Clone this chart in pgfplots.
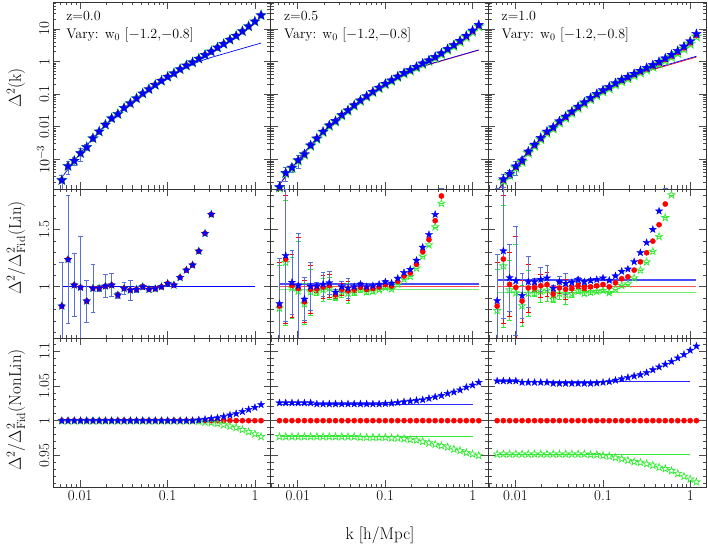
\documentclass[border=0pt]{standalone}
\usepackage{fontspec}
\usepackage{pgfplots}
\usepackage{pgfplotstable}
\pgfplotsset{compat=1.18}
\definecolor{pgreen}{RGB}{50,235,50}
\definecolor{ebl}{RGB}{90,110,220}
\definecolor{lblue}{RGB}{40,40,255}

\pgfdeclareplotmark{fstar}{%
\pgfpathmoveto{\pgfqpoint{0pt}{\pgfplotmarksize}}%
\pgfpathlineto{\pgfqpoint{0.2351\pgfplotmarksize}{0.3236\pgfplotmarksize}}%
\pgfpathlineto{\pgfqpoint{0.9511\pgfplotmarksize}{0.3090\pgfplotmarksize}}%
\pgfpathlineto{\pgfqpoint{0.3804\pgfplotmarksize}{-0.1236\pgfplotmarksize}}%
\pgfpathlineto{\pgfqpoint{0.5878\pgfplotmarksize}{-0.8090\pgfplotmarksize}}%
\pgfpathlineto{\pgfqpoint{0pt}{-0.4\pgfplotmarksize}}%
\pgfpathlineto{\pgfqpoint{-0.5878\pgfplotmarksize}{-0.8090\pgfplotmarksize}}%
\pgfpathlineto{\pgfqpoint{-0.3804\pgfplotmarksize}{-0.1236\pgfplotmarksize}}%
\pgfpathlineto{\pgfqpoint{-0.9511\pgfplotmarksize}{0.3090\pgfplotmarksize}}%
\pgfpathlineto{\pgfqpoint{-0.2351\pgfplotmarksize}{0.3236\pgfplotmarksize}}%
\pgfpathclose\pgfusepathqfillstroke}
\pgfdeclareplotmark{ostar}{%
\pgfpathmoveto{\pgfqpoint{0pt}{\pgfplotmarksize}}%
\pgfpathlineto{\pgfqpoint{0.2351\pgfplotmarksize}{0.3236\pgfplotmarksize}}%
\pgfpathlineto{\pgfqpoint{0.9511\pgfplotmarksize}{0.3090\pgfplotmarksize}}%
\pgfpathlineto{\pgfqpoint{0.3804\pgfplotmarksize}{-0.1236\pgfplotmarksize}}%
\pgfpathlineto{\pgfqpoint{0.5878\pgfplotmarksize}{-0.8090\pgfplotmarksize}}%
\pgfpathlineto{\pgfqpoint{0pt}{-0.4\pgfplotmarksize}}%
\pgfpathlineto{\pgfqpoint{-0.5878\pgfplotmarksize}{-0.8090\pgfplotmarksize}}%
\pgfpathlineto{\pgfqpoint{-0.3804\pgfplotmarksize}{-0.1236\pgfplotmarksize}}%
\pgfpathlineto{\pgfqpoint{-0.9511\pgfplotmarksize}{0.3090\pgfplotmarksize}}%
\pgfpathlineto{\pgfqpoint{-0.2351\pgfplotmarksize}{0.3236\pgfplotmarksize}}%
\pgfpathclose\pgfusepathqstroke}

% ---------- Row 1: Delta^2(k) ----------
\pgfplotstableread{
k r e
0.00618 2.29e-4 0.46
0.00728 6.17e-4 0.45
0.00858 9.03e-4 0.27
0.01011 1.542e-3 0.45
0.01191 2.36e-3 0.21
0.01403 4.41e-3 0.21
0.01653 7.14e-3 0.03
0.01948 0.01156 0.10
0.02294 0.01803 0.10
0.02703 0.02443 0.03
0.03184 0.03750 0.05
0.03751 0.05212 0.09
0.04419 0.07413 0.03
0.05206 0.1047 0.02
0.06133 0.1413 0.02
0.07228 0.1919 0.015
0.08514 0.2570 0.01
0.1003 0.3404 0.01
0.1182 0.4325 0.005
0.1392 0.5808 0
0.1641 0.7568 0
0.1932 0.9441 0
0.2277 1.222 0
0.2682 1.589 0
0.3161 2.028 0
0.3724 2.692 0
0.4387 3.467 0
0.5168 4.677 0
0.6089 6.166 0
0.7175 8.511 0
0.8453 12.02 0
0.9959 16.98 0
1.173 26.30 0
}\tabPA
\pgfplotstableread{
k l
0.00618 2.754e-4
0.00728 5.012e-4
0.00858 8.913e-4
0.01011 1.549e-3
0.01191 2.692e-3
0.01403 4.467e-3
0.01653 7.244e-3
0.01948 0.01148
0.02294 0.01778
0.02703 0.02630
0.03184 0.03802
0.03751 0.05370
0.04419 0.07586
0.05206 0.1047
0.06133 0.1445
0.07228 0.1950
0.08514 0.2570
0.1003 0.3311
0.1182 0.4266
0.1392 0.5370
0.1641 0.680
0.1932 0.830
0.2277 0.990
0.2682 1.160
0.3161 1.340
0.3724 1.520
0.4387 1.730
0.5168 1.960
0.6089 2.230
0.7175 2.530
0.8453 2.870
0.9959 3.260
1.173 3.700
}\tabLA
\pgfplotstableread{
k r b g e
0.00618 1.380e-4 1.415e-4 1.348e-4 0.46
0.00728 3.741e-4 3.836e-4 3.655e-4 0.45
0.00858 5.433e-4 5.572e-4 5.308e-4 0.27
0.01011 9.183e-4 9.417e-4 8.972e-4 0.45
0.01191 1.409e-3 1.445e-3 1.377e-3 0.21
0.01403 2.630e-3 2.697e-3 2.570e-3 0.21
0.01653 4.285e-3 4.388e-3 4.186e-3 0.03
0.01948 6.902e-3 7.068e-3 6.743e-3 0.10
0.02294 0.01081 0.01107 0.01056 0.10
0.02703 0.01472 0.01507 0.01438 0.03
0.03184 0.02239 0.02293 0.02187 0.05
0.03751 0.03119 0.03194 0.03047 0.09
0.04419 0.04467 0.04574 0.04364 0.03
0.05206 0.06295 0.06446 0.06144 0.02
0.06133 0.08511 0.08715 0.08307 0.02
0.07228 0.1156 0.1184 0.1128 0.015
0.08514 0.1545 0.1582 0.1508 0.01
0.1003 0.2032 0.2082 0.1983 0.01
0.1182 0.2588 0.2653 0.2523 0.005
0.1392 0.3388 0.3476 0.3303 0
0.1641 0.4355 0.4473 0.4242 0
0.1932 0.5358 0.5508 0.5213 0
0.2277 0.6714 0.6909 0.6526 0
0.2682 0.8531 0.8787 0.8275 0
0.3161 1.057 1.091 1.023 0
0.3724 1.340 1.386 1.294 0
0.4387 1.730 1.792 1.668 0
0.5168 2.344 2.435 2.255 0
0.6089 3.090 3.217 2.963 0
0.7175 4.169 4.352 3.990 0
0.8453 5.888 6.171 5.617 0
0.9959 8.511 8.945 8.103 0
1.173 12.59 13.28 11.96 0
}\tabPB
\pgfplotstableread{
k lr lb
0.00618 1.660e-4 1.700e-4
0.00858 5.371e-4 5.500e-4
0.01191 1.622e-3 1.661e-3
0.01653 4.365e-3 4.470e-3
0.02294 0.01071 0.01097
0.03184 0.02291 0.02346
0.04419 0.04571 0.04681
0.06133 0.08708 0.08917
0.08514 0.1549 0.1586
0.1182 0.2571 0.2633
0.1641 0.410 0.420
0.2277 0.596 0.610
0.3161 0.810 0.830
0.4387 1.043 1.068
0.6089 1.344 1.376
0.8453 1.732 1.773
1.173 2.231 2.285
}\tabLB
\pgfplotstableread{
k r b g e
0.00618 8.511e-5 8.996e-5 8.102e-5 0.46
0.00728 2.312e-4 2.444e-4 2.201e-4 0.45
0.00858 3.381e-4 3.574e-4 3.219e-4 0.27
0.01011 5.728e-4 6.054e-4 5.453e-4 0.45
0.01191 8.750e-4 9.231e-4 8.330e-4 0.21
0.01403 1.644e-3 1.734e-3 1.565e-3 0.21
0.01653 2.667e-3 2.814e-3 2.539e-3 0.03
0.01948 4.305e-3 4.542e-3 4.098e-3 0.10
0.02294 6.745e-3 7.116e-3 6.421e-3 0.10
0.02703 9.162e-3 9.652e-3 8.722e-3 0.03
0.03184 0.01400 0.01475 0.01333 0.05
0.03751 0.01950 0.02054 0.01856 0.09
0.04419 0.02773 0.02921 0.02640 0.03
0.05206 0.03926 0.04136 0.03738 0.02
0.06133 0.05321 0.05606 0.05066 0.02
0.07228 0.07244 0.07632 0.06889 0.015
0.08514 0.09638 0.1016 0.09166 0.01
0.1003 0.1256 0.1325 0.1193 0.01
0.1182 0.1585 0.1674 0.1504 0.005
0.1392 0.2065 0.2185 0.1956 0
0.1641 0.2624 0.2781 0.2480 0
0.1932 0.3206 0.3405 0.3023 0
0.2277 0.3972 0.4226 0.3738 0
0.2682 0.4898 0.5221 0.4604 0
0.3161 0.5998 0.6412 0.5626 0
0.3724 0.7328 0.7863 0.6859 0
0.4387 0.9163 0.9869 0.8549 0
0.5168 1.164 1.258 1.084 0
0.6089 1.489 1.616 1.382 0
0.7175 1.950 2.126 1.802 0
0.8453 2.661 2.914 2.448 0
0.9959 3.802 4.186 3.483 0
1.173 6.383 7.066 5.821 0
}\tabPC
\pgfplotstableread{
k lr lb
0.00618 1.023e-4 1.081e-4
0.00858 3.311e-4 3.500e-4
0.01191 1.000e-3 1.057e-3
0.01653 2.691e-3 2.844e-3
0.02294 6.605e-3 6.981e-3
0.03184 0.01412 0.01492
0.04419 0.02818 0.02979
0.06133 0.05368 0.05674
0.08514 0.09548 0.1009
0.1182 0.1585 0.1675
0.1641 0.253 0.267
0.2277 0.3675 0.3885
0.3161 0.4995 0.528
0.4387 0.643 0.680
0.6089 0.8285 0.876
0.8453 1.068 1.129
1.173 1.375 1.454
}\tabLC

% ---------- Row 2: ratio to fiducial linear ----------
\pgfplotstableread{
k v e
0.00618 0.832 0.46
0.00728 1.238 0.45
0.00858 1.015 0.27
0.01011 0.995 0.45
0.01191 0.876 0.21
0.01403 0.986 0.21
0.01653 0.986 0.03
0.01948 1.006 0.10
0.02294 1.015 0.10
0.02703 0.928 0.03
0.03184 0.986 0.05
0.03751 0.971 0.09
0.04419 0.977 0.03
0.05206 1.000 0.02
0.06133 0.977 0.02
0.07228 0.983 0.015
0.08514 1.000 0.01
0.1003 1.029 0.01
0.1182 1.015 0.005
0.1392 1.081 0
0.1641 1.145 0
0.1932 1.189 0
0.2277 1.310 0
0.2682 1.464 0
0.3161 1.630 0
}\tabQA
\pgfplotstableread{
k r b g e
0.00618 0.832 0.853 0.813 0.46
0.00728 1.240 1.272 1.211 0.45
0.00858 1.012 1.038 0.989 0.27
0.01011 0.985 1.010 0.962 0.45
0.01191 0.870 0.892 0.850 0.21
0.01403 0.978 1.003 0.955 0.21
0.01653 0.982 1.006 0.959 0.03
0.01948 0.998 1.022 0.975 0.10
0.02294 1.010 1.034 0.987 0.10
0.02703 0.930 0.952 0.909 0.03
0.03184 0.978 1.001 0.955 0.05
0.03751 0.965 0.988 0.943 0.09
0.04419 0.978 1.001 0.955 0.03
0.05206 0.998 1.022 0.974 0.02
0.06133 0.978 1.001 0.955 0.02
0.07228 0.985 1.009 0.961 0.015
0.08514 0.998 1.022 0.974 0.01
0.1003 1.018 1.043 0.994 0.01
0.1182 1.006 1.031 0.981 0.005
0.1392 1.047 1.074 1.021 0
0.1641 1.094 1.124 1.066 0
0.1932 1.120 1.151 1.090 0
0.2277 1.195 1.230 1.162 0
0.2682 1.305 1.344 1.266 0
0.3161 1.410 1.455 1.365 0
0.3724 1.575 1.629 1.521 0
0.4387 1.790 1.854 1.726 0
}\tabQB
\pgfplotstableread{
k r b g e
0.00618 0.832 0.879 0.792 0.46
0.00728 1.241 1.312 1.181 0.45
0.00858 1.021 1.079 0.972 0.27
0.01011 0.995 1.052 0.947 0.45
0.01191 0.876 0.924 0.834 0.21
0.01403 0.990 1.044 0.942 0.21
0.01653 0.990 1.044 0.942 0.03
0.01948 1.009 1.064 0.961 0.10
0.02294 1.020 1.076 0.971 0.10
0.02703 0.937 0.987 0.892 0.03
0.03184 0.990 1.043 0.942 0.05
0.03751 0.977 1.029 0.930 0.09
0.04419 0.985 1.038 0.938 0.03
0.05206 1.009 1.063 0.961 0.02
0.06133 0.990 1.043 0.942 0.02
0.07228 1.000 1.054 0.951 0.015
0.08514 1.009 1.063 0.960 0.01
0.1003 1.020 1.076 0.969 0.01
0.1182 1.000 1.056 0.949 0.005
0.1392 1.035 1.095 0.980 0
0.1641 1.070 1.134 1.011 0
0.1932 1.087 1.154 1.025 0
0.2277 1.145 1.218 1.077 0
0.2682 1.217 1.297 1.144 0
0.3161 1.296 1.385 1.216 0
0.3724 1.397 1.499 1.308 0
0.4387 1.540 1.659 1.437 0
0.5168 1.720 1.859 1.601 0
0.6089 1.940 2.105 1.800 0
}\tabQC

% ---------- Row 3: ratio to fiducial nonlinear ----------
\pgfplotstableread{
k r b g
0.00618 1 1.000 0.9995
0.00728 1 1.000 0.9995
0.00858 1 1.000 0.9995
0.01011 1 1.000 0.9995
0.01191 1 1.000 0.9995
0.01403 1 1.000 0.9995
0.01653 1 1.000 0.9995
0.01948 1 1.000 0.9995
0.02294 1 1.000 0.9995
0.02703 1 1.000 0.9995
0.03184 1 1.000 0.9995
0.03751 1 1.000 0.9995
0.04419 1 1.000 0.9995
0.05206 1 1.000 0.9995
0.06133 1 1.000 0.9995
0.07228 1 1.000 0.9995
0.08514 1 1.000 0.9995
0.1003 1 1.000 0.9995
0.1182 1 1.000 0.9995
0.1392 1 1.000 0.9995
0.1641 1 1.000 0.9995
0.1932 1 1.000 0.9995
0.2277 1 1.001 0.999
0.2682 1 1.002 0.998
0.3161 1 1.003 0.997
0.3724 1 1.004 0.996
0.4387 1 1.006 0.994
0.5168 1 1.008 0.992
0.6089 1 1.010 0.990
0.7175 1 1.013 0.987
0.8453 1 1.016 0.984
0.9959 1 1.019 0.981
1.173 1 1.023 0.977
}\tabRA
\pgfplotstableread{
k r b g
0.00618 1 1.0255 0.977
0.00728 1 1.0255 0.977
0.00858 1 1.0255 0.977
0.01011 1 1.0255 0.977
0.01191 1 1.0255 0.977
0.01403 1 1.0255 0.977
0.01653 1 1.024 0.977
0.01948 1 1.024 0.977
0.02294 1 1.024 0.977
0.02703 1 1.024 0.977
0.03184 1 1.024 0.977
0.03751 1 1.024 0.977
0.04419 1 1.024 0.977
0.05206 1 1.024 0.976
0.06133 1 1.024 0.976
0.07228 1 1.024 0.976
0.08514 1 1.024 0.976
0.1003 1 1.0245 0.976
0.1182 1 1.025 0.975
0.1392 1 1.026 0.975
0.1641 1 1.027 0.974
0.1932 1 1.028 0.973
0.2277 1 1.029 0.972
0.2682 1 1.030 0.970
0.3161 1 1.032 0.968
0.3724 1 1.034 0.966
0.4387 1 1.036 0.964
0.5168 1 1.039 0.962
0.6089 1 1.041 0.959
0.7175 1 1.044 0.957
0.8453 1 1.048 0.954
0.9959 1 1.051 0.952
1.173 1 1.055 0.950
}\tabRB
\pgfplotstableread{
k r b g
0.00618 1 1.057 0.952
0.00728 1 1.057 0.952
0.00858 1 1.057 0.952
0.01011 1 1.057 0.952
0.01191 1 1.055 0.952
0.01403 1 1.055 0.952
0.01653 1 1.055 0.952
0.01948 1 1.055 0.952
0.02294 1 1.055 0.952
0.02703 1 1.0535 0.952
0.03184 1 1.0535 0.952
0.03751 1 1.0535 0.952
0.04419 1 1.0535 0.952
0.05206 1 1.0535 0.952
0.06133 1 1.0535 0.952
0.07228 1 1.0535 0.951
0.08514 1 1.054 0.951
0.1003 1 1.055 0.950
0.1182 1 1.056 0.949
0.1392 1 1.058 0.947
0.1641 1 1.060 0.945
0.1932 1 1.062 0.943
0.2277 1 1.064 0.941
0.2682 1 1.066 0.940
0.3161 1 1.069 0.938
0.3724 1 1.073 0.936
0.4387 1 1.077 0.933
0.5168 1 1.081 0.931
0.6089 1 1.085 0.928
0.7175 1 1.090 0.924
0.8453 1 1.095 0.920
0.9959 1 1.101 0.916
1.173 1 1.107 0.912
}\tabRC

\tikzset{
  mbA/.style={only marks, mark=fstar, mark size=5pt, mark options={fill=blue, draw=blue, line width=0.3pt}},
  mgA/.style={only marks, mark=ostar, mark size=5pt, mark options={draw=pgreen, line width=0.8pt}},
  mrA/.style={only marks, mark=*, mark size=3pt, mark options={fill=red, draw=red}},
  mb/.style={only marks, mark=fstar, mark size=3.8pt, mark options={fill=blue, draw=blue, line width=0.3pt}},
  mg/.style={only marks, mark=ostar, mark size=3.8pt, mark options={draw=pgreen, line width=0.7pt}},
  mr/.style={only marks, mark=*, mark size=2.6pt, mark options={fill=red, draw=red}},
  annot/.style={anchor=west, font=\fontsize{14}{17}\selectfont},
  lab/.style={font=\fontsize{17}{20}\selectfont},
}

\begin{document}
\begin{tikzpicture}
\useasboundingbox (0,0) rectangle (708pt,545pt);

% ===== Row 1 =====
\begin{axis}[scale only axis, width=217.67pt, height=187pt, anchor=south west, at={(53pt,356pt)},
  xmode=log, ymode=log, xmin=0.0049, xmax=1.51, ymin=1.23e-4, ymax=67.3,
  xtick={0.01,0.1,1}, xticklabels={,,},
  minor xtick={0.005,0.006,0.007,0.008,0.009,0.02,0.03,0.04,0.05,0.06,0.07,0.08,0.09,0.2,0.3,0.4,0.5,0.6,0.7,0.8,0.9},
  ytick={0.001,0.01,0.1,1,10}, yticklabels={$10^{-3}$,0.01,0.1,1,10},
  minor ytick={2e-4,3e-4,4e-4,5e-4,6e-4,7e-4,8e-4,9e-4,2e-3,3e-3,4e-3,5e-3,6e-3,7e-3,8e-3,9e-3,0.02,0.03,0.04,0.05,0.06,0.07,0.08,0.09,0.2,0.3,0.4,0.5,0.6,0.7,0.8,0.9,2,3,4,5,6,7,8,9,20,30,40,50,60},
  tick align=inside, major tick length=7pt, minor tick length=3.5pt,
  tick style={black!70, line width=0.6pt}, axis line style={black!80, line width=0.9pt},
  tick label style={font=\fontsize{15}{18}\selectfont}, yticklabel style={rotate=90, anchor=south}]
\addplot[blue, line width=0.7pt] table[x=k,y=l] {\tabLA};
\addplot[mrA] table[x=k,y=r] {\tabPA};
\addplot[mgA] table[x=k,y=r] {\tabPA};
\addplot[mbA, error bars/y dir=both, error bars/y explicit relative, error bars/error bar style={line width=0.6pt, ebl}, error bars/error mark options={rotate=90, line width=0.6pt, mark size=2.4pt, ebl}] table[x=k,y=r,y error=e] {\tabPA};
\node[annot] at (rel axis cs:0.045,0.925) {z=0.0};
\node[annot] at (rel axis cs:0.045,0.824) {Vary: w$_0$ [$-$1.2,$-$0.8]};
\end{axis}

\begin{axis}[scale only axis, width=217.67pt, height=187pt, anchor=south west, at={(270.67pt,356pt)},
  xmode=log, ymode=log, xmin=0.0049, xmax=1.51, ymin=1.23e-4, ymax=67.3,
  xtick={0.01,0.1,1}, xticklabels={,,},
  minor xtick={0.005,0.006,0.007,0.008,0.009,0.02,0.03,0.04,0.05,0.06,0.07,0.08,0.09,0.2,0.3,0.4,0.5,0.6,0.7,0.8,0.9},
  ytick={0.001,0.01,0.1,1,10}, yticklabels={,,,,},
  minor ytick={2e-4,3e-4,4e-4,5e-4,6e-4,7e-4,8e-4,9e-4,2e-3,3e-3,4e-3,5e-3,6e-3,7e-3,8e-3,9e-3,0.02,0.03,0.04,0.05,0.06,0.07,0.08,0.09,0.2,0.3,0.4,0.5,0.6,0.7,0.8,0.9,2,3,4,5,6,7,8,9,20,30,40,50,60},
  tick align=inside, major tick length=7pt, minor tick length=3.5pt,
  tick style={black!70, line width=0.6pt}, axis line style={black!80, line width=0.9pt}]
\addplot[red, line width=0.7pt] table[x=k,y=lr] {\tabLB};
\addplot[blue, line width=0.7pt] table[x=k,y=lb] {\tabLB};
\addplot[mrA] table[x=k,y=r] {\tabPB};
\addplot[mgA] table[x=k,y=g] {\tabPB};
\addplot[mbA, error bars/y dir=both, error bars/y explicit relative, error bars/error bar style={line width=0.6pt, ebl}, error bars/error mark options={rotate=90, line width=0.6pt, mark size=2.4pt, ebl}] table[x=k,y=b,y error=e] {\tabPB};
\node[annot] at (rel axis cs:0.045,0.925) {z=0.5};
\node[annot] at (rel axis cs:0.045,0.824) {Vary: w$_0$ [$-$1.2,$-$0.8]};
\end{axis}

\begin{axis}[scale only axis, width=217.67pt, height=187pt, anchor=south west, at={(488.33pt,356pt)},
  xmode=log, ymode=log, xmin=0.0049, xmax=1.51, ymin=1.23e-4, ymax=67.3,
  xtick={0.01,0.1,1}, xticklabels={,,},
  minor xtick={0.005,0.006,0.007,0.008,0.009,0.02,0.03,0.04,0.05,0.06,0.07,0.08,0.09,0.2,0.3,0.4,0.5,0.6,0.7,0.8,0.9},
  ytick={0.001,0.01,0.1,1,10}, yticklabels={,,,,},
  minor ytick={2e-4,3e-4,4e-4,5e-4,6e-4,7e-4,8e-4,9e-4,2e-3,3e-3,4e-3,5e-3,6e-3,7e-3,8e-3,9e-3,0.02,0.03,0.04,0.05,0.06,0.07,0.08,0.09,0.2,0.3,0.4,0.5,0.6,0.7,0.8,0.9,2,3,4,5,6,7,8,9,20,30,40,50,60},
  tick align=inside, major tick length=7pt, minor tick length=3.5pt,
  tick style={black!70, line width=0.6pt}, axis line style={black!80, line width=0.9pt}]
\addplot[red, line width=0.7pt] table[x=k,y=lr] {\tabLC};
\addplot[blue, line width=0.7pt] table[x=k,y=lb] {\tabLC};
\addplot[mrA] table[x=k,y=r] {\tabPC};
\addplot[mgA] table[x=k,y=g] {\tabPC};
\addplot[mbA, error bars/y dir=both, error bars/y explicit relative, error bars/error bar style={line width=0.6pt, ebl}, error bars/error mark options={rotate=90, line width=0.6pt, mark size=2.4pt, ebl}] table[x=k,y=b,y error=e] {\tabPC};
\node[annot] at (rel axis cs:0.045,0.925) {z=1.0};
\node[annot] at (rel axis cs:0.045,0.824) {Vary: w$_0$ [$-$1.2,$-$0.8]};
\end{axis}

% ===== Row 2 =====
\begin{axis}[scale only axis, width=217.67pt, height=149.5pt, anchor=south west, at={(53pt,206.5pt)},
  xmode=log, xmin=0.0049, xmax=1.51, ymin=0.55, ymax=1.851,
  restrict y to domain=0.3:1.87,
  xtick={0.01,0.1,1}, xticklabels={,,},
  minor xtick={0.005,0.006,0.007,0.008,0.009,0.02,0.03,0.04,0.05,0.06,0.07,0.08,0.09,0.2,0.3,0.4,0.5,0.6,0.7,0.8,0.9},
  ytick={1,1.5}, yticklabels={1,1.5}, minor ytick={0.6,0.7,0.8,0.9,1.1,1.2,1.3,1.4,1.6,1.7,1.8},
  tick align=inside, major tick length=7pt, minor tick length=3.5pt,
  tick style={black!70, line width=0.6pt}, axis line style={black!80, line width=0.9pt},
  tick label style={font=\fontsize{15}{18}\selectfont}, yticklabel style={rotate=90, anchor=south}]
\addplot[blue, line width=1pt] coordinates {(0.0062,1) (1.0,1)};
\addplot[mg, error bars/y dir=both, error bars/y explicit relative, error bars/error bar style={line width=0.6pt, pgreen}, error bars/error mark options={rotate=90, line width=0.6pt, mark size=2.4pt, pgreen}] table[x=k,y=v,y error=e] {\tabQA};
\addplot[mr, error bars/y dir=both, error bars/y explicit relative, error bars/error bar style={line width=0.6pt, red}, error bars/error mark options={rotate=90, line width=0.6pt, mark size=2.4pt, red}] table[x=k,y=v,y error=e] {\tabQA};
\addplot[mb, error bars/y dir=both, error bars/y explicit relative, error bars/error bar style={line width=0.6pt, ebl}, error bars/error mark options={rotate=90, line width=0.6pt, mark size=2.4pt, ebl}] table[x=k,y=v,y error=e] {\tabQA};
\end{axis}

\begin{axis}[scale only axis, width=217.67pt, height=149.5pt, anchor=south west, at={(270.67pt,206.5pt)},
  xmode=log, xmin=0.0049, xmax=1.51, ymin=0.55, ymax=1.851,
  restrict y to domain=0.3:1.87,
  xtick={0.01,0.1,1}, xticklabels={,,},
  minor xtick={0.005,0.006,0.007,0.008,0.009,0.02,0.03,0.04,0.05,0.06,0.07,0.08,0.09,0.2,0.3,0.4,0.5,0.6,0.7,0.8,0.9},
  ytick={1,1.5}, yticklabels={,}, minor ytick={0.6,0.7,0.8,0.9,1.1,1.2,1.3,1.4,1.6,1.7,1.8},
  tick align=inside, major tick length=7pt, minor tick length=3.5pt,
  tick style={black!70, line width=0.6pt}, axis line style={black!80, line width=0.9pt}]
\addplot[pgreen, line width=1.2pt, opacity=0.7] coordinates {(0.0062,0.977) (1.17,0.977)};
\addplot[red, line width=1.2pt, opacity=0.7] coordinates {(0.0062,1) (1.17,1)};
\addplot[blue, line width=1.2pt, opacity=0.7] coordinates {(0.0062,1.024) (1.17,1.024)};
\addplot[mg, error bars/y dir=both, error bars/y explicit relative, error bars/error bar style={line width=0.6pt, pgreen}, error bars/error mark options={rotate=90, line width=0.6pt, mark size=2.4pt, pgreen}] table[x=k,y=g,y error=e] {\tabQB};
\addplot[mr, error bars/y dir=both, error bars/y explicit relative, error bars/error bar style={line width=0.6pt, red}, error bars/error mark options={rotate=90, line width=0.6pt, mark size=2.4pt, red}] table[x=k,y=r,y error=e] {\tabQB};
\addplot[mb, error bars/y dir=both, error bars/y explicit relative, error bars/error bar style={line width=0.6pt, ebl}, error bars/error mark options={rotate=90, line width=0.6pt, mark size=2.4pt, ebl}] table[x=k,y=b,y error=e] {\tabQB};
\end{axis}

\begin{axis}[scale only axis, width=217.67pt, height=149.5pt, anchor=south west, at={(488.33pt,206.5pt)},
  xmode=log, xmin=0.0049, xmax=1.51, ymin=0.55, ymax=1.851,
  restrict y to domain=0.3:1.87,
  xtick={0.01,0.1,1}, xticklabels={,,},
  minor xtick={0.005,0.006,0.007,0.008,0.009,0.02,0.03,0.04,0.05,0.06,0.07,0.08,0.09,0.2,0.3,0.4,0.5,0.6,0.7,0.8,0.9},
  ytick={1,1.5}, yticklabels={,}, minor ytick={0.6,0.7,0.8,0.9,1.1,1.2,1.3,1.4,1.6,1.7,1.8},
  tick align=inside, major tick length=7pt, minor tick length=3.5pt,
  tick style={black!70, line width=0.6pt}, axis line style={black!80, line width=0.9pt}]
\addplot[pgreen, line width=1.5pt, opacity=0.7] coordinates {(0.0062,0.952) (1.17,0.952)};
\addplot[red, line width=1.2pt, opacity=0.7] coordinates {(0.0062,1) (1.17,1)};
\addplot[blue, line width=1.5pt, opacity=0.7] coordinates {(0.0062,1.057) (1.17,1.057)};
\addplot[mg, error bars/y dir=both, error bars/y explicit relative, error bars/error bar style={line width=0.6pt, pgreen}, error bars/error mark options={rotate=90, line width=0.6pt, mark size=2.4pt, pgreen}] table[x=k,y=g,y error=e] {\tabQC};
\addplot[mr, error bars/y dir=both, error bars/y explicit relative, error bars/error bar style={line width=0.6pt, red}, error bars/error mark options={rotate=90, line width=0.6pt, mark size=2.4pt, red}] table[x=k,y=r,y error=e] {\tabQC};
\addplot[mb, error bars/y dir=both, error bars/y explicit relative, error bars/error bar style={line width=0.6pt, ebl}, error bars/error mark options={rotate=90, line width=0.6pt, mark size=2.4pt, ebl}] table[x=k,y=b,y error=e] {\tabQC};
\end{axis}

% ===== Row 3 =====
\begin{axis}[scale only axis, width=217.67pt, height=149pt, anchor=south west, at={(53pt,57.5pt)},
  xmode=log, xmin=0.0049, xmax=1.51, ymin=0.904, ymax=1.118,
  xtick={0.01,0.1,1}, xticklabels={0.01,0.1,1},
  minor xtick={0.005,0.006,0.007,0.008,0.009,0.02,0.03,0.04,0.05,0.06,0.07,0.08,0.09,0.2,0.3,0.4,0.5,0.6,0.7,0.8,0.9},
  ytick={0.95,1,1.05,1.1}, yticklabels={0.95,1,1.05,1.1},
  minor ytick={0.91,0.92,0.93,0.94,0.96,0.97,0.98,0.99,1.01,1.02,1.03,1.04,1.06,1.07,1.08,1.09,1.11},
  tick align=inside, major tick length=7pt, minor tick length=3.5pt,
  tick style={black!70, line width=0.6pt}, axis line style={black!80, line width=0.9pt},
  tick label style={font=\fontsize{15}{18}\selectfont}, yticklabel style={rotate=90, anchor=south}]
\addplot[mr] table[x=k,y=r] {\tabRA};
\addplot[pgreen, line width=0.8pt] coordinates {(0.0062,1) (1.0,1)};
\addplot[lblue, line width=0.8pt] coordinates {(0.0062,1) (1.0,1)};
\addplot[mg] table[x=k,y=g] {\tabRA};
\addplot[mb] table[x=k,y=b] {\tabRA};
\end{axis}

\begin{axis}[scale only axis, width=217.67pt, height=149pt, anchor=south west, at={(270.67pt,57.5pt)},
  xmode=log, xmin=0.0049, xmax=1.51, ymin=0.904, ymax=1.118,
  xtick={0.01,0.1,1}, xticklabels={0.01,0.1,1},
  minor xtick={0.005,0.006,0.007,0.008,0.009,0.02,0.03,0.04,0.05,0.06,0.07,0.08,0.09,0.2,0.3,0.4,0.5,0.6,0.7,0.8,0.9},
  ytick={0.95,1,1.05,1.1}, yticklabels={,,,},
  minor ytick={0.91,0.92,0.93,0.94,0.96,0.97,0.98,0.99,1.01,1.02,1.03,1.04,1.06,1.07,1.08,1.09,1.11},
  tick align=inside, major tick length=7pt, minor tick length=3.5pt,
  tick style={black!70, line width=0.6pt}, axis line style={black!80, line width=0.9pt},
  tick label style={font=\fontsize{15}{18}\selectfont}]
\addplot[mr] table[x=k,y=r] {\tabRB};
\addplot[pgreen, line width=0.8pt] coordinates {(0.0062,0.977) (1.0,0.977)};
\addplot[lblue, line width=0.8pt] coordinates {(0.0062,1.024) (1.0,1.024)};
\addplot[mg] table[x=k,y=g] {\tabRB};
\addplot[mb] table[x=k,y=b] {\tabRB};
\end{axis}

\begin{axis}[scale only axis, width=217.67pt, height=149pt, anchor=south west, at={(488.33pt,57.5pt)},
  xmode=log, xmin=0.0049, xmax=1.51, ymin=0.904, ymax=1.118,
  xtick={0.01,0.1,1}, xticklabels={0.01,0.1,1},
  minor xtick={0.005,0.006,0.007,0.008,0.009,0.02,0.03,0.04,0.05,0.06,0.07,0.08,0.09,0.2,0.3,0.4,0.5,0.6,0.7,0.8,0.9},
  ytick={0.95,1,1.05,1.1}, yticklabels={,,,},
  minor ytick={0.91,0.92,0.93,0.94,0.96,0.97,0.98,0.99,1.01,1.02,1.03,1.04,1.06,1.07,1.08,1.09,1.11},
  tick align=inside, major tick length=7pt, minor tick length=3.5pt,
  tick style={black!70, line width=0.6pt}, axis line style={black!80, line width=0.9pt},
  tick label style={font=\fontsize{15}{18}\selectfont}]
\addplot[mr] table[x=k,y=r] {\tabRC};
\addplot[pgreen, line width=0.8pt] coordinates {(0.0062,0.952) (1.0,0.952)};
\addplot[lblue, line width=0.8pt] coordinates {(0.0062,1.057) (1.0,1.057)};
\addplot[mg] table[x=k,y=g] {\tabRC};
\addplot[mb] table[x=k,y=b] {\tabRC};
\end{axis}

% ===== labels =====
\node[lab, rotate=90] at (16pt,457pt) {$\Delta^2$(k)};
\node[lab, rotate=90] at (16pt,297pt) {$\Delta^2/\Delta^2_{\rm Fid}$(Lin)};
\node[lab, rotate=90] at (16pt,135pt) {$\Delta^2/\Delta^2_{\rm Fid}$(NonLin)};
\node[lab] at (380pt,10pt) {k [h/Mpc]};
\end{tikzpicture}
\end{document}
